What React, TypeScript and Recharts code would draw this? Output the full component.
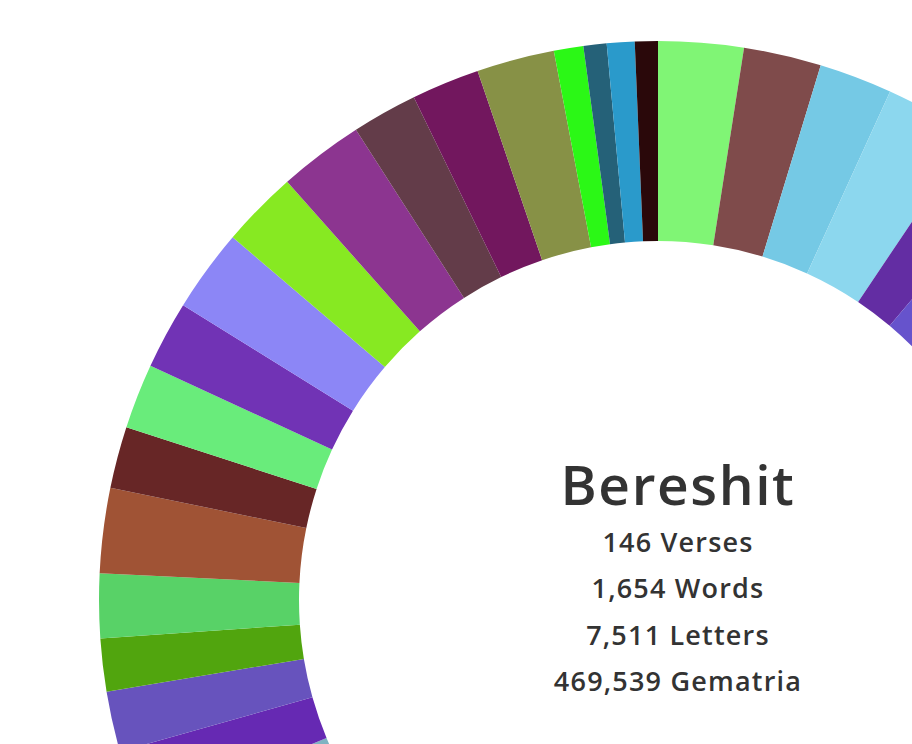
import React from "react";
import { PieChart, Pie, Cell } from "recharts";

const parashot = [
  "Bereshit", "Noach", "Lech-Lecha", "Vayera", "Chayei Sarah", "Toldot", "Vayetzei", "Vayishlach", "Vayeshev", "Miketz",
  "Vayigash", "Vayechi", "Shemot", "Va'eira", "Bo", "Beshalach", "Yitro", "Mishpatim", "Terumah", "Tetzaveh",
  "Ki Tisa", "Vayakhel", "Pekudei", "Vayikra", "Tzav", "Shemini", "Tazria", "Metzora", "Acharei Mot", "Kedoshim",
  "Emor", "Behar", "Bechukotai", "Bamidbar", "Naso", "Beha'alotcha", "Shelach", "Korach", "Chukat", "Balak",
  "Pinchas", "Matot", "Masei", "Devarim", "Va'etchanan", "Eikev", "Re'eh", "Shoftim", "Ki Teitzei", "Ki Tavo",
  "Nitzavim", "Vayelech", "Haazinu", "V'Zot HaBerachah",
];

const letters = [
  7511, 6840, 6452, 7925, 5350, 5426, 7512, 7458, 6876, 7914,
  5680, 4448, 6762, 6701, 6149, 6423, 4022, 5313, 4692, 5430,
  7424, 6181, 4432, 6222, 4670, 4670, 3109, 4697, 4294, 3229,
  6106, 2817, 3992, 7393, 8632, 7055, 5820, 5335, 4665, 5656,
  7500, 5453, 5740, 5986, 7315, 6773, 7500, 5775, 5995, 6858,
  2600, 2040, 2447, 2024,
];

const colors = [
  "#80f575", "#7f4b4b", "#75c9e5", "#8cd7ee", "#632da3", "#6653cc", "#c94f7c", "#3fa37a", "#d99a3c", "#4a6fd1",
  "#a3c94f", "#b0417a", "#3c8fd9", "#e06b4f", "#5bbf9a", "#9a5bd1", "#d1c34f", "#4fb7d1", "#c25a2e", "#7ad14f",
  "#d14f9a", "#2e7ac2", "#b8d14f", "#8a4fd1", "#4fd18a", "#d16b4f", "#4f5ad1", "#c2a02e", "#2ec2b0", "#a02ec2",
  "#6fc24a", "#c24a6f", "#4a9fc2", "#c2884a", "#5a4ac2", "#7fb3c2", "#6629b3", "#6753bd", "#51a50e", "#58d267",
  "#a05335", "#672626", "#69ec7b", "#7133b5", "#8c86f6", "#87e922", "#8c3590", "#633c49", "#72175e", "#879146",
  "#2bf816", "#256178", "#2a9acb", "#2a080a",
];

const title = "Bereshit";
const statLines = ["146 Verses", "1,654 Words", "7,511 Letters", "469,539 Gematria"];

const data = parashot.map((name, i) => ({ name, value: letters[i] }));

export default function App() {
  return (
    <div style={{ position: "absolute", left: 0, top: 0, width: 912, height: 744, overflow: "hidden", background: "#fff" }}>
      <PieChart width={912} height={744} margin={{ top: 0, right: 0, bottom: 0, left: 0 }}>
        <Pie
          data={data}
          dataKey="value"
          nameKey="name"
          cx={658}
          cy={600}
          innerRadius={359}
          outerRadius={559}
          startAngle={90}
          endAngle={-270}
          stroke="none"
          isAnimationActive={false}
        >
          {data.map((d, i) => (
            <Cell key={d.name} fill={colors[i]} />
          ))}
        </Pie>
      </PieChart>
      <svg width={912} height={744} style={{ position: "absolute", left: 0, top: 0, pointerEvents: "none" }}>
        <text
          x={678}
          y={505}
          textAnchor="middle"
          fill="#333"
          style={{ fontFamily: "'Open Sans', sans-serif", fontSize: 55, fontWeight: 600, letterSpacing: 1.6 }}
        >
          {title}
        </text>
        {statLines.map((s, i) => (
          <text
            key={s}
            x={678}
            y={552 + i * 46.3}
            textAnchor="middle"
            fill="#333"
            style={{ fontFamily: "'Open Sans', sans-serif", fontSize: 27, fontWeight: 600, letterSpacing: 1.2 }}
          >
            {s}
          </text>
        ))}
      </svg>
    </div>
  );
}
